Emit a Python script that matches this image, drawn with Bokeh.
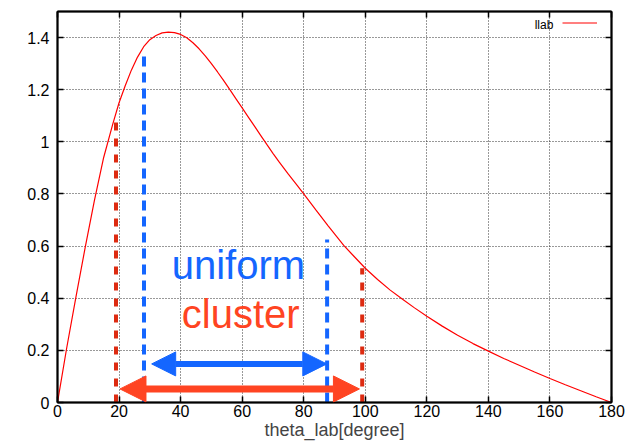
from bokeh.plotting import figure
from bokeh.models import (Range1d, FixedTicker, LinearAxis, Arrow, NormalHead,
                          Label, Legend, LegendItem)
from bokeh.embed import file_html
from bokeh.resources import INLINE

# ---- data ----
theta = [0, 3, 6, 9, 12, 15, 18, 20, 22, 24, 26, 28, 30, 32, 34, 36, 38, 40, 42,
         44, 46, 48, 50, 52, 54, 56, 58, 60, 62, 64, 66, 68, 70, 72, 75, 78, 80,
         84, 88, 93, 96, 100, 104, 108, 112, 116, 120, 125, 130, 135, 140, 145,
         150, 155, 160, 165, 170, 175, 180]
llab = [0, 0.21, 0.405, 0.595, 0.775, 0.94, 1.07, 1.15, 1.215, 1.275, 1.325,
        1.365, 1.392, 1.408, 1.418, 1.421, 1.419, 1.412, 1.399, 1.38, 1.357,
        1.33, 1.30, 1.268, 1.235, 1.2, 1.165, 1.13, 1.095, 1.06, 1.025, 0.99,
        0.956, 0.923, 0.876, 0.831, 0.80, 0.738, 0.677, 0.603, 0.565, 0.515,
        0.472, 0.432, 0.397, 0.363, 0.331, 0.293, 0.258, 0.226, 0.197, 0.169,
        0.143, 0.117, 0.092, 0.068, 0.045, 0.022, 0]

x_ticks = [0, 20, 40, 60, 80, 100, 120, 140, 160, 180]
y_ticks = [0, 0.2, 0.4, 0.6, 0.8, 1.0, 1.2, 1.4]
y_tick_labels = ["0", "0.2", "0.4", "0.6", "0.8", "1", "1.2", "1.4"]

# cut lines (angle, top height)
uniform_cut_x = [28.1, 87.6]
uniform_cut_top = [1.345, 0.625]
cluster_cut_x = [19.0, 99.0]
cluster_cut_top = [1.10, 0.515]

# range arrows (start, end, height)
uniform_arrow = [30.6, 87.5, 0.148]
cluster_arrow = [20.3, 98.1, 0.052]

BLUE = "#1466ff"
ORANGE = "#ff4422"
DARKRED = "#dd2a10"
FONT = "Liberation Sans"

p = figure(width=629, height=442, output_backend="svg", toolbar_location=None,
           x_range=Range1d(0, 180), y_range=Range1d(0, 1.5),
           min_border_left=57, min_border_right=18, min_border_top=11,
           min_border_bottom=40)
p.background_fill_color = "white"
p.border_fill_color = "white"
p.outline_line_color = "black"
p.outline_line_width = 1.5

for ax, ticks in ((p.xaxis[0], x_ticks), (p.yaxis[0], y_ticks)):
    ax.ticker = FixedTicker(ticks=ticks)
    ax.major_tick_in = 6
    ax.major_tick_out = 0
    ax.minor_tick_line_color = None
    ax.axis_line_width = 2
    ax.major_tick_line_width = 1.5
    ax.major_label_text_font = FONT
    ax.major_label_text_font_size = "16px"
    ax.major_label_text_color = "black"

p.yaxis[0].major_label_overrides = {t: s for t, s in zip(y_ticks, y_tick_labels)}
p.yaxis[0].major_label_standoff = 8
p.xaxis[0].major_label_standoff = 2
p.xaxis[0].axis_label = "theta_lab[degree]"
p.xaxis[0].axis_label_text_font = FONT
p.xaxis[0].axis_label_text_font_size = "18px"
p.xaxis[0].axis_label_text_font_style = "normal"
p.xaxis[0].axis_label_standoff = 0

# mirror ticks on top and right (no labels)
for loc, ticks in (("above", x_ticks), ("right", y_ticks)):
    ax = LinearAxis(ticker=FixedTicker(ticks=ticks), major_tick_in=6, major_tick_out=0,
                    minor_tick_line_color=None, major_label_text_font_size="1px",
                    major_label_text_color=None, major_label_standoff=0,
                    axis_line_width=2, major_tick_line_width=1.5)
    p.add_layout(ax, loc)

for g in (p.xgrid[0], p.ygrid[0]):
    g.grid_line_color = "#333333"
    g.grid_line_dash = "1 2"
    g.grid_line_width = 1
p.xgrid[0].ticker = FixedTicker(ticks=x_ticks)
p.ygrid[0].ticker = FixedTicker(ticks=y_ticks)

# curve
curve = p.line(theta, llab, line_color="#ff0000", line_width=1.2)

# cut lines
p.segment(x0=cluster_cut_x, y0=[0, 0], x1=cluster_cut_x, y1=cluster_cut_top,
          line_color=DARKRED, line_width=4, line_dash="8 8")
p.segment(x0=uniform_cut_x, y0=[0, 0], x1=uniform_cut_x, y1=uniform_cut_top,
          line_color=BLUE, line_width=4, line_dash="10 6")

# arrows
p.add_layout(Arrow(x_start=uniform_arrow[0], x_end=uniform_arrow[1],
                   y_start=uniform_arrow[2], y_end=uniform_arrow[2],
                   line_color=BLUE, line_width=6,
                   start=NormalHead(size=24, fill_color=BLUE, line_color=BLUE),
                   end=NormalHead(size=24, fill_color=BLUE, line_color=BLUE)))
p.add_layout(Arrow(x_start=cluster_arrow[0], x_end=cluster_arrow[1],
                   y_start=cluster_arrow[2], y_end=cluster_arrow[2],
                   line_color=ORANGE, line_width=7,
                   start=NormalHead(size=26, fill_color=ORANGE, line_color=ORANGE),
                   end=NormalHead(size=26, fill_color=ORANGE, line_color=ORANGE)))

# texts
p.add_layout(Label(x=37.1, y=0.528, text="uniform", text_color=BLUE,
                   text_font=FONT, text_font_size="40px", text_baseline="alphabetic"))
p.add_layout(Label(x=40.4, y=0.338, text="cluster", text_color=ORANGE,
                   text_font=FONT, text_font_size="40px", text_baseline="alphabetic"))

# legend: text left of line sample
p.add_layout(Label(x=161.1, y=1.45, text="llab", text_color="black",
                   text_font=FONT, text_font_size="12px", text_align="right",
                   text_baseline="middle"))
legend = Legend(items=[LegendItem(label=" ", renderers=[curve])],
                location="top_right", margin=0, padding=0, spacing=0,
                label_width=14, label_standoff=0, glyph_width=35, glyph_height=23,
                label_height=23, border_line_color=None, background_fill_alpha=0,
                label_text_font_size="11px")
p.add_layout(legend)

open("out.html", "w").write(file_html(p, INLINE))
